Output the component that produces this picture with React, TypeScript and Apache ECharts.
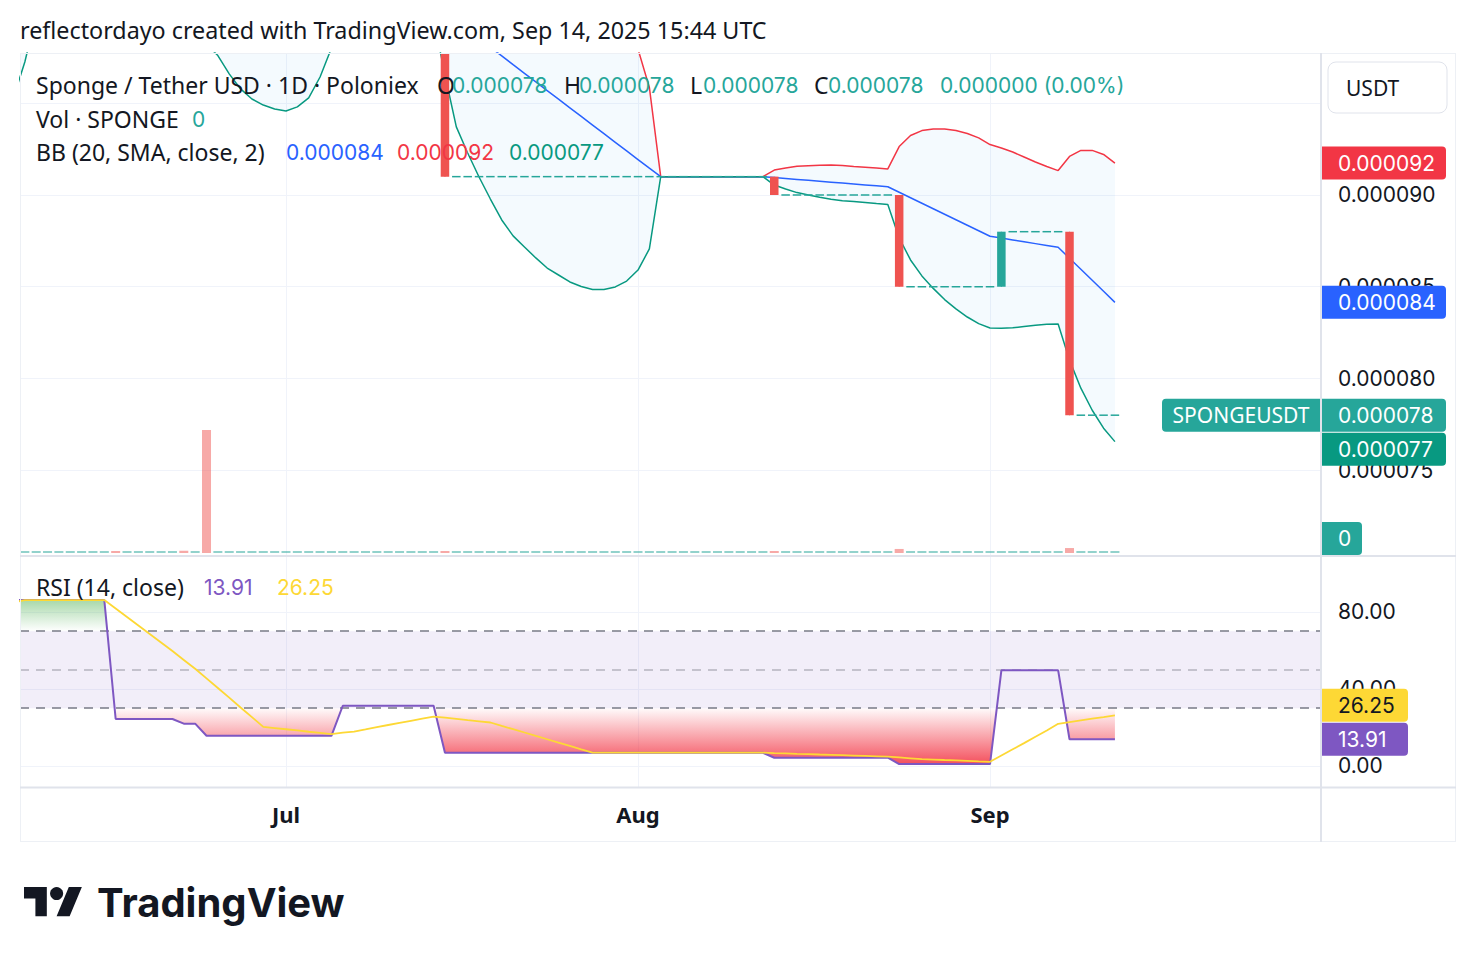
import React, { useEffect, useRef } from "react";
import * as echarts from "echarts";

// ---------------- data (prices in millionths of a USDT) ----------------
const FIRST_DAY = "2025-06-07";
const PRICE_UNIT = 1e-6;

const closes = [
  106.5, 106.5, 106.5, 106.5, 106.5, 106.5, 106.5, 106.5, 106.5,
  102.5, 102.5, 102.5, 102.5, 102.5, 102.5,
  102, 102,
  100, 100, 100, 100, 100, 100, 100, 100, 100, 100, 100, 100,
  100.5, 100.5, 100.5, 100.5, 100.5, 100.5, 100.5, 100.5, 100.5,
  91, 91, 91, 91, 91, 91, 91, 91, 91, 91,
  91, 91, 91, 91, 91, 91, 91, 91, 91, 91,
  91, 91, 91, 91, 91, 91, 91, 91, 91,
  90, 90, 90, 90, 90, 90, 90, 90, 90, 90, 90,
  85, 85, 85, 85, 85, 85, 85, 85, 85,
  88, 88, 88, 88, 88, 88,
  78, 78, 78, 78, 78,
];

const volumes = [
  0, 0, 0, 0, 0, 0, 0, 0, 0, 5,
  0, 0, 0, 0, 0, 15, 0, 820, 0, 0,
  0, 0, 0, 0, 0, 0, 0, 0, 0, 0,
  0, 0, 0, 0, 0, 0, 0, 0, 5, 0,
  0, 0, 0, 0, 0, 0, 0, 0, 0, 0,
  0, 0, 0, 0, 0, 0, 0, 0, 0, 0,
  0, 0, 0, 0, 0, 0, 0, 5, 0, 0,
  0, 0, 0, 0, 0, 0, 0, 0, 27, 0,
  0, 0, 0, 0, 0, 0, 0, 0, 0, 0,
  0, 0, 0, 33, 0, 0, 0, 0,
];

const bbUpper = [
  111.5, 111.3, 111.0, 110.6, 110.2, 109.8, 109.4, 109.0, 108.7,
  108.6, 108.5, 108.3, 108.0, 107.7, 107.4, 107.2, 107.0,
  106.9, 106.8, 106.8, 106.9, 107.0, 107.0, 106.9, 106.7, 106.4, 106.1, 105.5,
  104.6, 103.8, 103.2, 102.8, 102.5, 102.3, 102.1, 102.0, 101.9, 101.8,
  103.32, 105.21, 105.69, 106.06, 106.32, 106.52, 106.43, 106.09, 105.75, 105.36,
  104.80, 104.24, 103.55, 102.77, 101.83, 100.75, 99.49, 97.95, 95.86, 91.0,
  91.0, 91.0, 91.0, 91.0, 91.0, 91.0, 91.0, 91.0, 91.0,
  91.36, 91.47, 91.57, 91.60, 91.62, 91.63, 91.61, 91.55, 91.51, 91.47, 91.42,
  92.64, 93.24, 93.51, 93.59, 93.60, 93.51, 93.35, 93.11, 92.75,
  92.56, 92.34, 92.07, 91.80, 91.55, 91.33,
  92.10, 92.43, 92.43, 92.21, 91.74,
];

const bbBasis = [
  103.4, 104.4, 105.4, 105.5, 105.6, 105.6, 105.5, 105.4, 105.2, 104.9,
  104.6, 104.3, 104.0, 103.7, 103.4, 103.1, 102.8, 102.5,
  102.2, 101.9, 101.6, 101.4, 101.2, 101.0, 100.9, 100.8, 100.7, 100.6,
  100.6, 100.6, 100.6, 100.5, 100.5, 100.5, 100.4, 100.4, 100.4, 100.4,
  99.93, 99.46, 98.99, 98.52, 98.05, 97.58, 97.10, 96.63, 96.16, 95.69,
  95.22, 94.75, 94.28, 93.81, 93.34, 92.87, 92.40, 91.93, 91.46, 91.0,
  91.0, 91.0, 91.0, 91.0, 91.0, 91.0, 91.0, 91.0, 91.0,
  90.95, 90.90, 90.85, 90.80, 90.75, 90.70, 90.65, 90.60, 90.55, 90.50, 90.45,
  90.15, 89.85, 89.55, 89.25, 88.95, 88.65, 88.35, 88.05, 87.75,
  87.65, 87.55, 87.45, 87.35, 87.25, 87.15,
  86.55, 85.95, 85.35, 84.75, 84.15,
];

const bbLower = [
  95.3, 97.25, 99.8,
  100.5, 101.0, 101.2, 101.3, 101.2, 101.0, 100.5, 100.0, 99.6, 99.3, 99.0, 98.8, 98.6, 98.3,
  98.2, 97.6, 96.6, 95.78, 95.23, 94.90, 94.69, 94.58, 94.80, 95.29, 96.43, 98.0, 99.0,
  99.3, 99.5, 99.6, 99.7, 99.7, 99.7, 99.7, 99.6,
  96.54, 93.71, 92.29, 90.98, 89.78, 88.64, 87.77, 87.17, 86.57, 86.02,
  85.64, 85.26, 85.01, 84.85, 84.85, 84.99, 85.31, 85.91, 87.06, 91.0,
  91.0, 91.0, 91.0, 91.0, 91.0, 91.0, 91.0, 91.0, 91.0,
  90.54, 90.33, 90.13, 90.00, 89.88, 89.77, 89.69, 89.65, 89.59, 89.53, 89.48,
  87.66, 86.46, 85.59, 84.91, 84.30, 83.79, 83.35, 82.99, 82.75,
  82.74, 82.76, 82.83, 82.90, 82.95, 82.97,
  81.00, 79.47, 78.27, 77.29, 76.56,
];

const rsi = [
  86.2, 86.2, 86.2, 86.2, 86.2, 86.2, 86.2, 86.2, 86.2,
  24.4, 24.4, 24.4, 24.4, 24.4, 24.4,
  22.0, 22.0,
  15.7, 15.7, 15.7, 15.7, 15.7, 15.7, 15.7, 15.7, 15.7, 15.7, 15.7, 15.7,
  31.3, 31.3, 31.3, 31.3, 31.3, 31.3, 31.3, 31.3, 31.3,
  6.9, 6.9, 6.9, 6.9, 6.9, 6.9, 6.9, 6.9, 6.9, 6.9,
  6.9, 6.9, 6.9, 6.9, 6.9, 6.9, 6.9, 6.9, 6.9, 6.9,
  6.9, 6.9, 6.9, 6.9, 6.9, 6.9, 6.9, 6.9, 6.9,
  4.3, 4.3, 4.3, 4.3, 4.3, 4.3, 4.3, 4.3, 4.3, 4.3, 4.3,
  1.0, 1.0, 1.0, 1.0, 1.0, 1.0, 1.0, 1.0, 1.0,
  49.7, 49.7, 49.7, 49.7, 49.7, 49.7,
  13.91, 13.91, 13.91, 13.91, 13.91,
];

const rsiMa = [
  85.0, 86.2, 86.2, 86.2, 86.2, 86.2, 86.2, 86.2, 86.2,
  81.8, 77.4, 73.0, 68.6, 64.2, 59.7, 55.1, 50.5, 45.5, 40.5,
  35.5, 30.4, 25.4, 20.3, 19.7, 19.1, 18.5, 17.8, 17.2, 16.6,
  17.3, 17.9, 19.0, 20.2, 21.3, 22.4, 23.5, 24.6, 25.7, 25.1,
  24.5, 23.8, 23.2, 22.6, 20.8, 19.1, 17.4, 15.6, 13.9, 12.1,
  10.4, 8.6,
  6.9, 6.9, 6.9, 6.9, 6.9, 6.9, 6.9, 6.9, 6.9, 6.9, 6.9, 6.9, 6.9, 6.9, 6.9, 6.9,
  6.71, 6.53, 6.34, 6.16, 5.97, 5.79, 5.60, 5.41, 5.23, 5.04,
  4.86, 4.44, 4.01, 3.59, 3.36, 3.12, 2.89, 2.65, 2.41, 2.18,
  5.42, 8.66, 11.9, 15.2, 18.4, 21.9, 22.8, 23.7, 24.6, 25.4, 26.25,
];

const priceGridTicks = [75, 80, 85, 90, 95];
const priceLabelTicks = [75, 80, 85, 90]; // 0.000095 sits under the currency box
const rsiTicks = [0, 40, 80];
const rsiBand = [30, 70];
const rsiMid = 50;
const monthNames = ["Jan", "Feb", "Mar", "Apr", "May", "Jun", "Jul", "Aug", "Sep", "Oct", "Nov", "Dec"];

// ---------------- layout / style ----------------
const W = 1476, H = 962;
const PL = 20, PR = 1320, FR = 1455;
const PRICE_TOP = 53, PRICE_BOT = 555;
const VOL_TOP = 403, VOL_BOT = 553;
const RSI_TOP = 557, RSI_BOT = 787;
const CHART_BOT = 842;
const X_MIN = 0.575, X_MAX = 115.06;
const P_MIN = 70.381, P_MAX = 97.738;
const R_MIN = -10.91, R_MAX = 108.57;
const V_MAX = 1000;
const CANDLE_W = 8.5, VOL_W = 9;

const C = {
  text: "#131722", grid: "#F0F3FA", frame: "#E0E3EB",
  up: "#26A69A", down: "#EF5350",
  upVol: "rgba(38,166,154,0.5)", downVol: "rgba(239,83,80,0.5)",
  basis: "#2962FF", upper: "#F23645", lower: "#089981",
  rsi: "#7E57C2", rsiMa: "#FDD835",
};
const TXT = '"Noto Sans", sans-serif';
const NUM = "Inter, sans-serif";
const WORD_SIZE = 23;

// ---------------- helpers ----------------
function clipAgainst(poly: number[][], inside: (p: number[]) => boolean, cross: (a: number[], b: number[]) => number[]) {
  const out: number[][] = [];
  for (let i = 0; i < poly.length; i++) {
    const cur = poly[i];
    const prev = poly[(i + poly.length - 1) % poly.length];
    const ci = inside(cur), pi = inside(prev);
    if (ci) {
      if (!pi) out.push(cross(prev, cur));
      out.push(cur);
    } else if (pi) out.push(cross(prev, cur));
  }
  return out;
}
function clipRect(poly: number[][], x0: number, x1: number, y0: number, y1: number) {
  const ix = (a: number[], b: number[], x: number) => [x, a[1] + ((b[1] - a[1]) * (x - a[0])) / (b[0] - a[0])];
  const iy = (a: number[], b: number[], y: number) => [a[0] + ((b[0] - a[0]) * (y - a[1])) / (b[1] - a[1]), y];
  let p = poly;
  p = clipAgainst(p, (q) => q[0] >= x0, (a, b) => ix(a, b, x0));
  if (p.length) p = clipAgainst(p, (q) => q[0] <= x1, (a, b) => ix(a, b, x1));
  if (p.length) p = clipAgainst(p, (q) => q[1] >= y0, (a, b) => iy(a, b, y0));
  if (p.length) p = clipAgainst(p, (q) => q[1] <= y1, (a, b) => iy(a, b, y1));
  return p;
}
function intersectBox(x: number, y: number, w: number, h: number, cs: any) {
  const x0 = Math.max(x, cs.x), x1 = Math.min(x + w, cs.x + cs.width);
  const y0 = Math.max(y, cs.y), y1 = Math.min(y + h, cs.y + cs.height);
  if (x1 <= x0 || y1 <= y0) return null;
  return { x: x0, y: y0, width: x1 - x0, height: y1 - y0 };
}
// region between a series and a threshold (below or above it), in data space
function thresholdRegion(vals: number[], thr: number, below: boolean) {
  const pts: number[][] = [[0, thr]];
  for (let i = 0; i < vals.length; i++) {
    const v = vals[i];
    if (i > 0) {
      const pv = vals[i - 1];
      if ((pv - thr) * (v - thr) < 0) {
        const t = (thr - pv) / (v - pv);
        pts.push([i - 1 + t, thr]);
      }
    }
    pts.push([i, below ? Math.min(v, thr) : Math.max(v, thr)]);
  }
  pts.push([vals.length - 1, thr]);
  return pts;
}
const fmtP = (v: number) => (v * PRICE_UNIT).toFixed(6);

export default function App() {
  const ref = useRef<HTMLDivElement>(null);

  useEffect(() => {
    if (!ref.current) return;
    echarts.graphic.registerShape(
      "tvlogo",
      echarts.graphic.extendPath("M14 22H7V11H0V4h14v18zM28 22h-8l7.5-18h8L28 22z", {})
    );
    const chart = echarts.init(ref.current, null, { renderer: "svg", width: W, height: H });

    const N = closes.length;
    const xs = closes.map((_, i) => i);
    const t0 = Date.parse(FIRST_DAY + "T00:00:00Z");
    const dates = xs.map((i) => new Date(t0 + i * 86400000));
    const monthStarts = xs.filter((i) => dates[i].getUTCDate() === 1);
    const monthLabel: Record<number, string> = {};
    monthStarts.forEach((i) => (monthLabel[i] = monthNames[dates[i].getUTCMonth()]));

    const opens = closes.map((c, i) => (i === 0 ? c : closes[i - 1]));
    const highs = closes.map((c, i) => Math.max(c, opens[i]));
    const lows = closes.map((c, i) => Math.min(c, opens[i]));

    const gridLine = { color: C.grid, width: 1, type: "solid" };
    const vLines = monthStarts.map((i) => ({ xAxis: i, lineStyle: gridLine }));

    const baseX = (gridIndex: number) => ({
      type: "value", gridIndex, min: X_MIN, max: X_MAX,
      axisLine: { show: false }, axisTick: { show: false }, splitLine: { show: false },
      axisLabel: { show: false },
    });

    const option: any = {
      animation: false,
      backgroundColor: "#ffffff",
      grid: [
        { left: PL, width: PR - PL, top: PRICE_TOP, height: PRICE_BOT - PRICE_TOP },
        { left: PL, width: PR - PL, top: VOL_TOP, height: VOL_BOT - VOL_TOP },
        { left: PL, width: PR - PL, top: RSI_TOP, height: RSI_BOT - RSI_TOP },
      ],
      xAxis: [
        baseX(0),
        baseX(1),
        {
          ...baseX(2),
          axisLabel: {
            show: true, customValues: monthStarts, margin: 16,
            formatter: (v: number) => monthLabel[Math.round(v)] || "",
            color: C.text, fontSize: 22, fontFamily: TXT, fontWeight: "bold",
          },
        },
      ],
      yAxis: [
        {
          type: "value", gridIndex: 0, position: "right", min: P_MIN, max: P_MAX,
          axisLine: { show: false }, axisTick: { show: false }, splitLine: { show: false },
          axisLabel: {
            customValues: priceLabelTicks, formatter: (v: number) => fmtP(v), margin: 18,
            color: C.text, fontSize: 21, fontFamily: NUM,
          },
        },
        {
          type: "value", gridIndex: 1, min: 0, max: V_MAX, show: false,
          axisLine: { show: false }, axisTick: { show: false }, splitLine: { show: false }, axisLabel: { show: false },
        },
        {
          type: "value", gridIndex: 2, position: "right", min: R_MIN, max: R_MAX,
          axisLine: { show: false }, axisTick: { show: false }, splitLine: { show: false },
          axisLabel: {
            customValues: rsiTicks, formatter: (v: number) => v.toFixed(2), margin: 18,
            color: C.text, fontSize: 21, fontFamily: NUM,
          },
        },
      ],
      series: [
        // price pane grid lines (behind everything)
        {
          type: "line", name: "price grid", xAxisIndex: 0, yAxisIndex: 0, z: 0, silent: true,
          data: xs.map((i) => [i, closes[i]]), showSymbol: false, lineStyle: { opacity: 0 },
          markLine: {
            silent: true, z: 0, symbol: ["none", "none"], label: { show: false }, lineStyle: gridLine,
            data: [...priceGridTicks.map((v) => ({ yAxis: v, lineStyle: gridLine })), ...vLines],
          },
        },
        // Bollinger band fill
        {
          type: "custom", name: "BB fill", xAxisIndex: 0, yAxisIndex: 0, z: 1, silent: true,
          data: xs.map((i) => [i, bbUpper[i], bbLower[i]]),
          encode: { x: 0, y: [1, 2] },
          renderItem: (params: any, api: any) => {
            if (params.dataIndex !== N - 1) return null;
            const cs = params.coordSys;
            const pts: number[][] = [];
            for (let i = 0; i < N; i++) pts.push(api.coord([i, bbUpper[i]]));
            for (let i = N - 1; i >= 0; i--) pts.push(api.coord([i, bbLower[i]]));
            const p = clipRect(pts, cs.x, cs.x + cs.width, cs.y, cs.y + cs.height);
            if (p.length < 3) return null;
            return { type: "polygon", shape: { points: p }, style: { fill: "rgba(33,150,243,0.05)" } };
          },
        },
        // volume
        {
          type: "custom", name: "Vol", xAxisIndex: 1, yAxisIndex: 1, z: 2, silent: true,
          data: xs.map((i) => [i, volumes[i]]), encode: { x: 0, y: 1 },
          renderItem: (params: any, api: any) => {
            const i = api.value(0);
            const [x, yv] = api.coord([i, api.value(1)]);
            const y0 = api.coord([i, 0])[1];
            const top = Math.min(yv, y0 - 2);
            const r = intersectBox(x - VOL_W / 2, top, VOL_W, y0 - top, params.coordSys);
            if (!r) return null;
            return { type: "rect", shape: r, style: { fill: closes[i] < opens[i] ? C.downVol : C.upVol } };
          },
        },
        {
          type: "line", name: "BB upper", xAxisIndex: 0, yAxisIndex: 0, z: 3,
          data: xs.map((i) => [i, bbUpper[i]]), showSymbol: false, silent: true,
          lineStyle: { color: C.upper, width: 1.5 },
        },
        {
          type: "line", name: "BB basis", xAxisIndex: 0, yAxisIndex: 0, z: 3,
          data: xs.map((i) => [i, bbBasis[i]]), showSymbol: false, silent: true,
          lineStyle: { color: C.basis, width: 1.5 },
        },
        {
          type: "line", name: "BB lower", xAxisIndex: 0, yAxisIndex: 0, z: 3,
          data: xs.map((i) => [i, bbLower[i]]), showSymbol: false, silent: true,
          lineStyle: { color: C.lower, width: 1.5 },
        },
        // candles
        {
          type: "custom", name: "SPONGEUSDT", xAxisIndex: 0, yAxisIndex: 0, z: 5, silent: true,
          data: xs.map((i) => [i, opens[i], closes[i], lows[i], highs[i]]),
          encode: { x: 0, y: [1, 2, 3, 4] },
          renderItem: (params: any, api: any) => {
            const i = api.value(0);
            const o = api.value(1), c = api.value(2), lo = api.value(3), hi = api.value(4);
            const [x, yo] = api.coord([i, o]);
            const yc = api.coord([i, c])[1];
            const yh = api.coord([i, hi])[1];
            const yl = api.coord([i, lo])[1];
            let top = Math.min(yo, yc), bot = Math.max(yo, yc);
            if (bot - top < 1.5) {
              const m = (top + bot) / 2;
              top = m - 0.75;
              bot = m + 0.75;
            }
            const color = c < o ? C.down : C.up;
            const children: any[] = [];
            const wick = intersectBox(x - 0.5, yh, 1, yl - yh, params.coordSys);
            if (wick && yl - yh > 0) children.push({ type: "rect", shape: wick, style: { fill: color } });
            const body = intersectBox(x - CANDLE_W / 2, top, CANDLE_W, bot - top, params.coordSys);
            if (body) children.push({ type: "rect", shape: body, style: { fill: color } });
            if (!children.length) return null;
            return { type: "group", children };
          },
        },
        // RSI grid lines (behind fills)
        {
          type: "line", name: "rsi grid", xAxisIndex: 2, yAxisIndex: 2, z: 0, silent: true,
          data: xs.map((i) => [i, rsi[i]]), showSymbol: false, lineStyle: { opacity: 0 },
          markArea: {
            silent: true, itemStyle: { color: "rgba(126,87,194,0.1)" },
            data: [[{ yAxis: rsiBand[0] }, { yAxis: rsiBand[1] }]],
          },
          markLine: {
            silent: true, z: 0, symbol: ["none", "none"], label: { show: false }, lineStyle: gridLine,
            data: [...rsiTicks.map((v) => ({ yAxis: v, lineStyle: gridLine })), ...vLines],
          },
        },
        // RSI fills
        {
          type: "custom", name: "RSI oversold", xAxisIndex: 2, yAxisIndex: 2, z: 2, silent: true,
          data: xs.map((i) => [i, rsi[i]]), encode: { x: 0, y: 1 },
          renderItem: (params: any, api: any) => {
            if (params.dataIndex !== N - 1) return null;
            const cs = params.coordSys;
            const pts = thresholdRegion(rsi, rsiBand[0], true).map((d) => api.coord(d));
            const p = clipRect(pts, cs.x, cs.x + cs.width, cs.y, cs.y + cs.height);
            if (p.length < 3) return null;
            const yA = api.coord([0, rsiBand[0]])[1];
            const yB = api.coord([0, 0])[1];
            return {
              type: "polygon", shape: { points: p },
              style: {
                fill: new echarts.graphic.LinearGradient(0, yA, 0, yB, [
                  { offset: 0, color: "rgba(242,54,69,0.02)" },
                  { offset: 1, color: "rgba(242,54,69,0.9)" },
                ], true),
              },
            };
          },
        },
        {
          type: "custom", name: "RSI overbought", xAxisIndex: 2, yAxisIndex: 2, z: 2, silent: true,
          data: xs.map((i) => [i, rsi[i]]), encode: { x: 0, y: 1 },
          renderItem: (params: any, api: any) => {
            if (params.dataIndex !== N - 1) return null;
            const cs = params.coordSys;
            const pts = thresholdRegion(rsi, rsiBand[1], false).map((d) => api.coord(d));
            const p = clipRect(pts, cs.x, cs.x + cs.width, cs.y, cs.y + cs.height);
            if (p.length < 3) return null;
            const yA = api.coord([0, 100])[1];
            const yB = api.coord([0, rsiBand[1]])[1];
            return {
              type: "polygon", shape: { points: p },
              style: {
                fill: new echarts.graphic.LinearGradient(0, yA, 0, yB, [
                  { offset: 0, color: "rgba(76,175,80,0.9)" },
                  { offset: 1, color: "rgba(76,175,80,0.0)" },
                ], true),
              },
            };
          },
        },
        {
          type: "line", name: "RSI", xAxisIndex: 2, yAxisIndex: 2, z: 4,
          data: xs.map((i) => [i, rsi[i]]), showSymbol: false, silent: true,
          lineStyle: { color: C.rsi, width: 2 },
          markLine: {
            silent: true, z: 3, symbol: ["none", "none"], label: { show: false },
            data: [
              { yAxis: rsiBand[1], lineStyle: { color: "#787B86", width: 1.5, type: [9, 7] } },
              { yAxis: rsiMid, lineStyle: { color: "rgba(120,123,134,0.5)", width: 1.5, type: [9, 7] } },
              { yAxis: rsiBand[0], lineStyle: { color: "#787B86", width: 1.5, type: [9, 7] } },
            ],
          },
        },
        {
          type: "line", name: "RSI MA", xAxisIndex: 2, yAxisIndex: 2, z: 5,
          data: xs.map((i) => [i, rsiMa[i]]), showSymbol: false, silent: true,
          lineStyle: { color: C.rsiMa, width: 1.8 },
        },
      ],
    };

    chart.setOption(option);

    // ---------- overlay texts, labels and frame ----------
    const pY = (v: number) => chart.convertToPixel({ yAxisIndex: 0 }, v) as number;
    const vY = (v: number) => chart.convertToPixel({ yAxisIndex: 1 }, v) as number;
    const rY = (v: number) => chart.convertToPixel({ yAxisIndex: 2 }, v) as number;
    const L = N - 1;
    const BH = 33, STEP = 34;

    const g: any[] = [];
    const line = (x1: number, y1: number, x2: number, y2: number, color: string, w: number) =>
      g.push({ type: "line", z: 60, silent: true, shape: { x1, y1, x2, y2 }, style: { stroke: color, lineWidth: w } });
    const text = (x: number, y: number, s: string, fill: string, family = TXT, size = WORD_SIZE, extra: any = {}, z = 70) =>
      g.push({
        type: "text", z, silent: true, x, y,
        style: { text: s, fill, fontFamily: family, fontSize: size, verticalAlign: "middle", align: "left", ...extra },
      });
    const badge = (x: number, cy: number, w: number, s: string, fill: string, color: string, r: number[]) => {
      g.push({ type: "rect", z: 80, silent: true, shape: { x, y: cy - BH / 2, width: w, height: BH, r }, style: { fill } });
      g.push({
        type: "text", z: 81, silent: true, x: x + 16, y: cy,
        style: { text: s, fill: color, fontFamily: NUM, fontSize: 21, verticalAlign: "middle", align: "left" },
      });
    };

    // frame
    line(PL, PRICE_TOP + 0.5, FR, PRICE_TOP + 0.5, "#EDF0F5", 1);
    line(PL + 0.5, PRICE_TOP, PL + 0.5, CHART_BOT, "#EDF0F5", 1);
    line(FR + 0.5, PRICE_TOP, FR + 0.5, CHART_BOT, "#EDF0F5", 1);
    line(PL, CHART_BOT - 0.5, FR, CHART_BOT - 0.5, "#EDF0F5", 1);
    line(PL, PRICE_BOT + 1, FR + 1, PRICE_BOT + 1, C.frame, 2);
    line(PL, RSI_BOT + 0.5, FR + 1, RSI_BOT + 0.5, C.frame, 2);
    line(PR + 1, PRICE_TOP, PR + 1, CHART_BOT, C.frame, 2);

    // header
    text(20, 30, "reflectordayo created with TradingView.com, Sep 14, 2025 15:44 UTC", C.text, TXT, 23.3);

    // legend line 1
    const chg = closes[L] - closes[L - 1];
    const chgPct = (chg / closes[L - 1]) * 100;
    const lastCol = closes[L] >= opens[L] ? C.up : C.down;
    text(36, 85, "Sponge / Tether USD · 1D · Poloniex", C.text);
    text(437, 85, "O", C.text); text(452, 85, fmtP(opens[L]), lastCol, NUM, 21);
    text(564, 85, "H", C.text); text(579, 85, fmtP(highs[L]), lastCol, NUM, 21);
    text(690, 85, "L", C.text); text(703, 85, fmtP(lows[L]), lastCol, NUM, 21);
    text(814, 85, "C", C.text); text(828, 85, fmtP(closes[L]), lastCol, NUM, 21);
    text(940, 85, `${fmtP(chg)} (${chgPct.toFixed(2)}%)`, lastCol, NUM, 21);
    // legend line 2
    text(36, 119, "Vol · SPONGE", C.text); text(192, 119, String(volumes[L]), C.up, NUM, 21);
    // legend line 3
    text(36, 152, "BB (20, SMA, close, 2)", C.text);
    text(286, 152, fmtP(bbBasis[L]), C.basis, NUM, 21);
    text(397, 152, fmtP(bbUpper[L]), C.upper, NUM, 21);
    text(509, 152, fmtP(bbLower[L]), C.lower, NUM, 21);
    // RSI legend
    text(36, 587, "RSI (14, close)", C.text);
    text(204, 587, rsi[L].toFixed(2), C.rsi, NUM, 21);
    text(277, 587, rsiMa[L].toFixed(2), C.rsiMa, NUM, 21);

    // USDT box
    g.push({ type: "rect", z: 75, silent: true, shape: { x: 1328, y: 62, width: 119, height: 51, r: 8 }, style: { fill: "#fff", stroke: C.frame, lineWidth: 1 } });
    text(1346, 88, "USDT", C.text, TXT, 21, {}, 76);

    // price badges
    const axisX = PR + 2;
    const yUpper = pY(bbUpper[L]);
    const yBasis = pY(bbBasis[L]);
    const yClose = pY(closes[L]);
    let yLower = pY(bbLower[L]);
    if (Math.abs(yLower - yClose) < STEP) yLower = yClose + (yLower >= yClose ? STEP : -STEP);
    badge(axisX, yUpper, 124, fmtP(bbUpper[L]), C.upper, "#fff", [0, 4, 4, 0]);
    badge(axisX, yBasis, 124, fmtP(bbBasis[L]), C.basis, "#fff", [0, 4, 4, 0]);
    badge(axisX, yLower, 124, fmtP(bbLower[L]), C.lower, "#fff", [0, 4, 4, 0]);
    badge(axisX, yClose, 124, fmtP(closes[L]), C.up, "#fff", [0, 4, 4, 0]);
    g.push({ type: "rect", z: 80, silent: true, shape: { x: 1162, y: yClose - BH / 2, width: 158, height: BH, r: [4, 0, 0, 4] }, style: { fill: C.up } });
    g.push({ type: "text", z: 81, silent: true, x: 1241, y: yClose, style: { text: "SPONGEUSDT", fill: "#fff", fontFamily: TXT, fontSize: 21, verticalAlign: "middle", align: "center" } });
    // volume badge
    const yVol = Math.min(vY(volumes[L]), PRICE_BOT - BH / 2);
    badge(axisX, yVol, 40, String(volumes[L]), C.up, "#fff", [0, 4, 4, 0]);
    // RSI badges
    const yRsi = rY(rsi[L]);
    let yMa = rY(rsiMa[L]);
    if (Math.abs(yMa - yRsi) < STEP) yMa = yRsi + (yMa >= yRsi ? STEP : -STEP);
    badge(axisX, yMa, 86, rsiMa[L].toFixed(2), C.rsiMa, C.text, [0, 4, 4, 0]);
    badge(axisX, yRsi, 86, rsi[L].toFixed(2), C.rsi, "#fff", [0, 4, 4, 0]);

    // TradingView logo
    const s = 1.63, lx = 24, ly = 880.5;
    g.push({ type: "tvlogo", z: 70, silent: true, x: lx, y: ly, scaleX: s, scaleY: s, style: { fill: C.text } });
    g.push({ type: "circle", z: 70, silent: true, shape: { cx: lx + 20 * s, cy: ly + 8 * s, r: 4 * s }, style: { fill: C.text } });
    text(97, 902, "TradingView", C.text, NUM, 40, { fontWeight: "bold" });

    chart.setOption({ graphic: g });

    return () => chart.dispose();
  }, []);

  return (
    <div
      ref={ref}
      style={{ position: "fixed", left: 0, top: 0, width: W, height: H, background: "#fff" }}
    />
  );
}
